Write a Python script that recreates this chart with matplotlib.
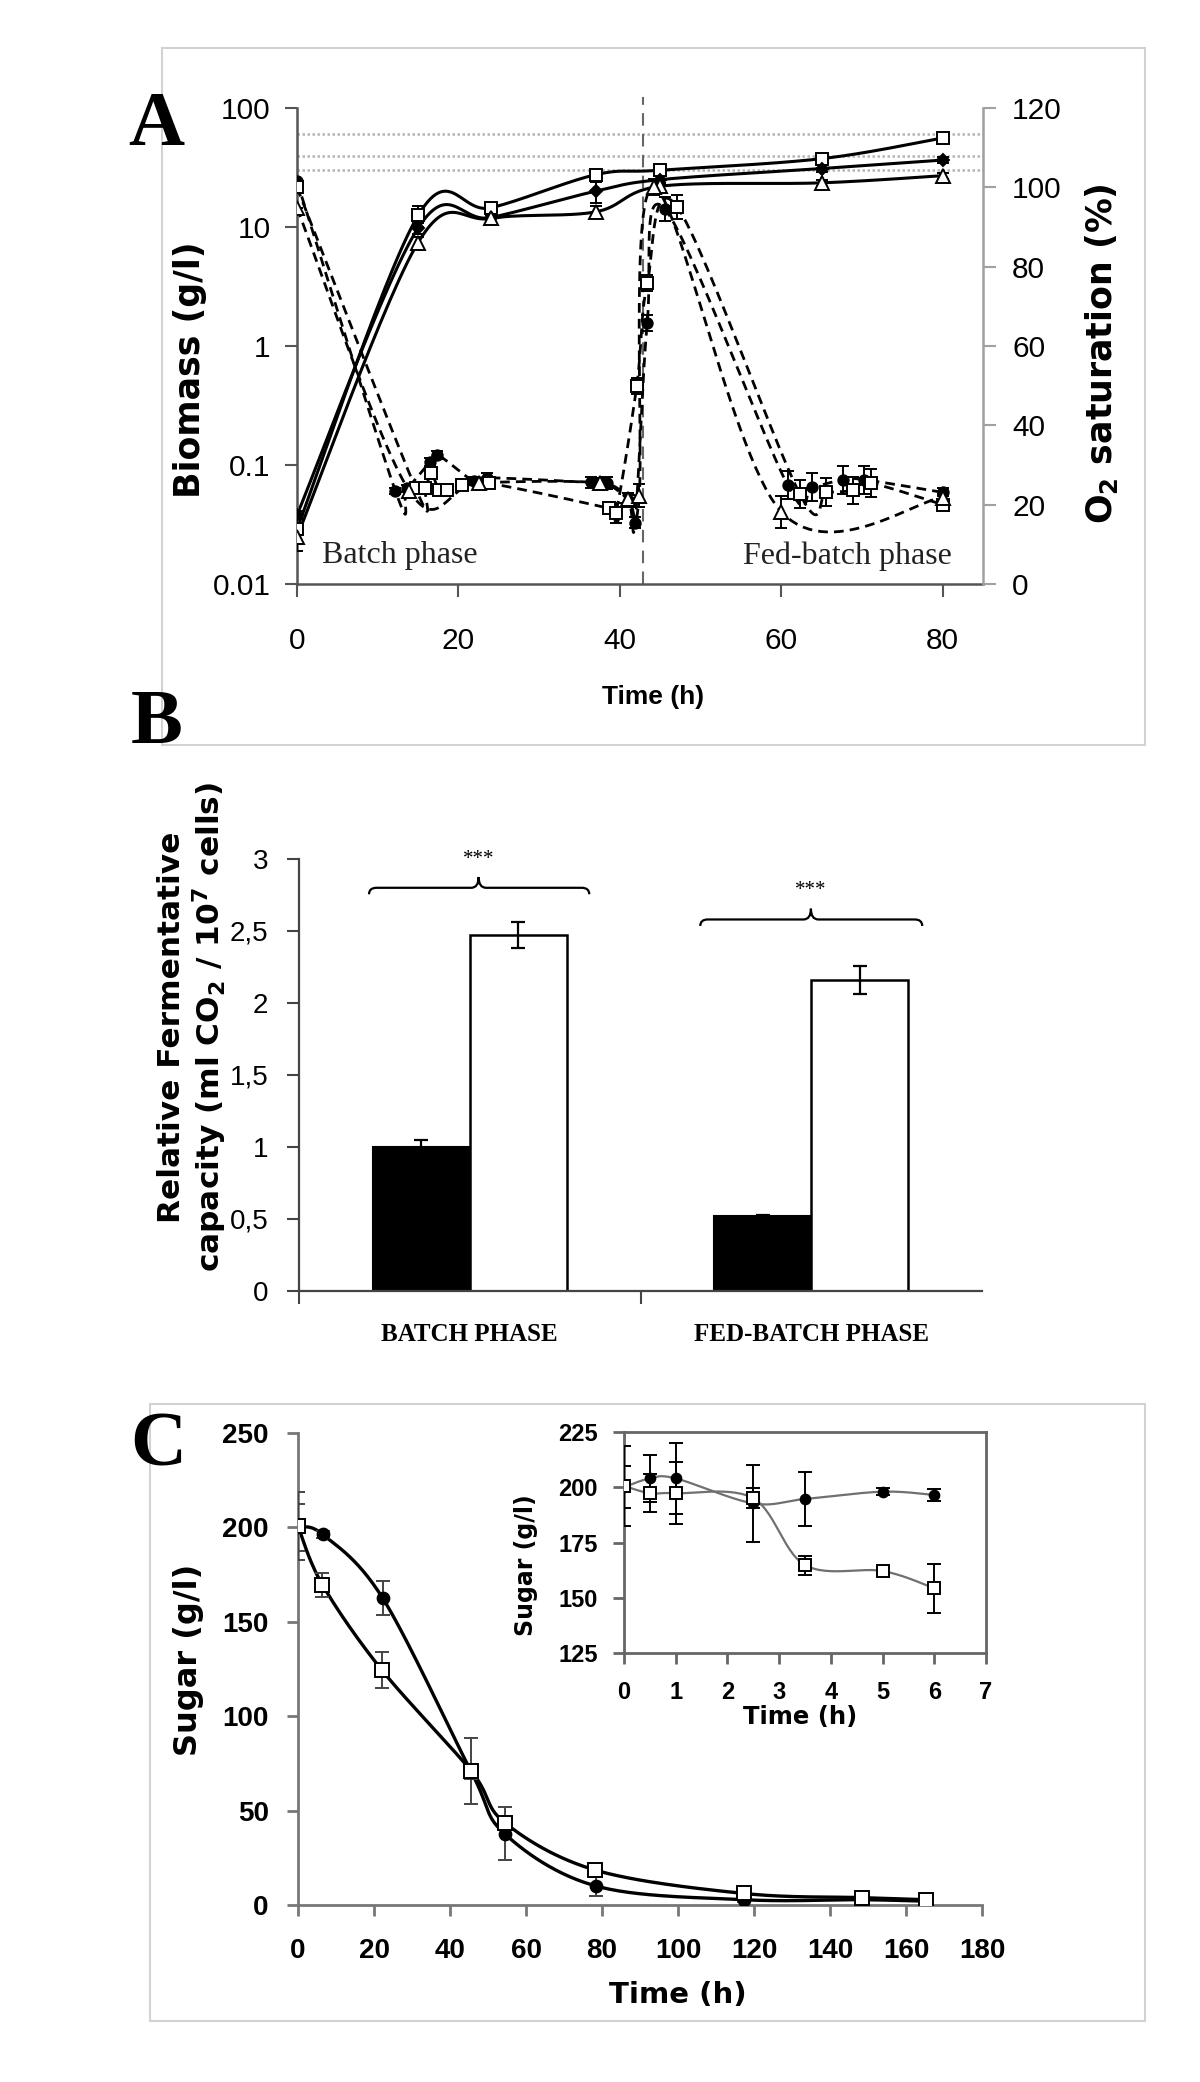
import numpy as np
import matplotlib
matplotlib.use('Agg')
import matplotlib.pyplot as plt
from matplotlib.path import Path
from matplotlib.patches import PathPatch, Rectangle
from matplotlib.ticker import NullLocator, FixedLocator

plt.rcParams['font.family'] = ['Liberation Sans', 'DejaVu Sans']
plt.rcParams['mathtext.fontset'] = 'dejavusans'

# ---------------- Panel A data ----------------
a_t_bio = [0, 15, 24, 37, 45, 65, 80]
a_bio_sq = [0.029, 12.5, 14.5, 27.5, 30, 37.5, 56]
a_bio_sq_err = [0.006, 2.5, 1.5, 1.5, 1.5, 2, 2]
a_bio_dia = [0.038, 9.8, 12, 20, 25, 31, 36.5]
a_bio_dia_err = [0.003, 1.0, 1.0, 4, 2, 2, 2]
a_bio_tri = [0.025, 7.4, 11.8, 13.4, 22, 23.5, 27]
a_bio_tri_err = [0.006, 0.8, 0.8, 1.5, 1.5, 1.5, 1.5]

a_o2_circ_t = [0, 12.2, 13.6, 16.5, 17.4, 21.9, 23.5, 36.4, 37.4, 38.4, 41.1, 41.9, 43.4, 45.6, 60.8, 63.8, 67.6, 70.3, 80]
a_o2_circ = [101.5, 23.4, 24.1, 30.8, 32.6, 25.9, 26.8, 25.6, 25.2, 25.4, 21.0, 15.5, 65.9, 94.5, 24.9, 24.5, 26.3, 26.3, 23.1]
a_o2_circ_err = [0, 0.8, 0.8, 1, 1, 1, 1.2, 1.5, 1.5, 1.5, 1.5, 1.5, 2, 3, 3.5, 3.5, 3.5, 3.5, 1]

a_o2_sq_t = [0, 14.7, 15.9, 16.6, 17.6, 18.6, 20.5, 23.8, 38.6, 39.5, 42.1, 43.4, 47.1, 62.3, 65.6, 68.9, 71.1, 80]
a_o2_sq = [100, 24.1, 24.1, 28.1, 23.6, 23.6, 25.0, 25.4, 19.1, 17.8, 50, 75.8, 95.1, 22.7, 23.1, 23.6, 25.4, 20]
a_o2_sq_err = [0, 0.8, 0.8, 1, 1, 1, 1, 1.2, 1.5, 2.5, 2, 2, 3, 3.5, 3.5, 3.5, 3.5, 1]

a_o2_tri_t = [0, 13.9, 22.5, 37.5, 41.0, 42.4, 44.2, 60.0, 80]
a_o2_tri = [94.8, 23.5, 25.5, 25.5, 21.5, 22.3, 100, 18.2, 21.8]
a_o2_tri_err = [0, 0.8, 1, 1, 1.5, 3, 2, 4, 1]

a_ref_lines = [61, 39.5, 30]
a_phase_switch = 42.9
a_xticks = [0, 20, 40, 60, 80]
a_yticks = [0.01, 0.1, 1, 10, 100]
a_yticklabels = ['0.01', '0.1', '1', '10', '100']
a_y2ticks = [0, 20, 40, 60, 80, 100, 120]

# ---------------- Panel B data ----------------
b_categories = ['BATCH PHASE', 'FED-BATCH PHASE']
b_black = [1.0, 0.52]
b_black_err = [0.05, 0.01]
b_white = [2.47, 2.16]
b_white_err = [0.09, 0.10]
b_yticks = [0, 0.5, 1, 1.5, 2, 2.5, 3]
b_sig_labels = ['***', '***']
b_brace_x = [(0.205, 0.85), (1.175, 1.825)]
b_brace_mid = [0.526, 1.499]
b_brace_y = [2.80, 2.58]

# ---------------- Panel C data ----------------
c_t_circ = [0, 6.5, 22.3, 45.6, 54.4, 78.5, 117.4, 148.4, 165.3]
c_circ = [200, 196.3, 162.5, 70.5, 37.7, 10, 2.8, 2.8, 2]
c_circ_err = [12.5, 2, 9, 4, 14, 5, 1, 1, 1]
c_t_sq = [0, 6.4, 22, 45.6, 54.4, 78.2, 117.4, 148.4, 165.3]
c_sq = [200.7, 169.7, 124.6, 70.9, 43.6, 18.5, 6.1, 3.9, 2.8]
c_sq_err = [18, 6.3, 9.5, 17.5, 3, 2, 1, 1, 1]
c_xticks = list(range(0, 181, 20))
c_yticks = list(range(0, 251, 50))

ci_t = [0, 0.5, 1, 2.5, 3.5, 5, 6]
ci_circ = [200, 204, 204, 192.7, 194.7, 198, 196.5]
ci_circ_err = [9.4, 10.5, 16, 17.5, 12.3, 1.5, 2.5]
ci_sq = [200.6, 197.3, 197.3, 195, 164.8, 162.1, 154.3]
ci_sq_err = [18, 8.5, 14, 4.5, 4.3, 1.5, 11]
ci_xticks = list(range(0, 8))
ci_yticks = [125, 150, 175, 200, 225]

# ---------------- helpers ----------------
W, H = 1200, 2082
fig = plt.figure(figsize=(W / 100, H / 100), dpi=100)


def fx(px):
    return px / W


def fy(py):
    return 1 - py / H


def axes_px(l, t, r, b):
    return fig.add_axes([l / W, 1 - b / H, (r - l) / W, (b - t) / H])


def smooth(x, y, n=30):
    P = np.column_stack([x, y]).astype(float)
    m = len(P)
    xs, ys = [P[0, 0]], [P[0, 1]]
    s = np.linspace(0, 1, n)[1:, None]
    for i in range(m - 1):
        p0, p1 = P[i], P[i + 1]
        pm = P[i - 1] if i > 0 else P[i]
        pp = P[i + 2] if i + 2 < m else P[i + 1]
        c1 = p0 + (p1 - pm) / 6
        c2 = p1 - (pp - p0) / 6
        B = (1 - s) ** 3 * p0 + 3 * (1 - s) ** 2 * s * c1 + 3 * (1 - s) * s ** 2 * c2 + s ** 3 * p1
        xs.extend(B[:, 0])
        ys.extend(B[:, 1])
    return np.array(xs), np.array(ys)


def series(ax, t, v, err, marker, mfc, ms, ls='-', lw=2.2, color='k', log=False,
           ecolor='k', capsize=4, z=3):
    if log:
        xs, ly = smooth(t, np.log10(v))
        ys = 10 ** ly
    else:
        xs, ys = smooth(t, v)
    ax.plot(xs, ys, color=color, lw=lw, ls=ls, zorder=z - 1, solid_capstyle='round')
    ax.errorbar(t, v, yerr=err, fmt=marker, mfc=mfc, mec='k', ms=ms, mew=1.4,
                ecolor=ecolor, elinewidth=1.4, capsize=capsize, capthick=1.4,
                ls='none', zorder=z)


def frame(l, t, r, b):
    fig.add_artist(Rectangle((fx(l), fy(b)), (r - l) / W, (b - t) / H,
                             transform=fig.transFigure, fill=False,
                             ec='#d2d2d2', lw=1.5))


LABEL = dict(family=['DejaVu Sans'], weight='bold')
PANEL = dict(family=['Liberation Serif'], weight='bold', size=56, ha='center', va='baseline')

# ---------------- Panel A ----------------
frame(162, 48, 1145, 745)
axA = axes_px(297, 108, 983, 584)
axA.set_yscale('log')
axA.set_ylim(0.01, 100)
axA.set_xlim(0, 85)
axA2 = axA.twinx()
axA2.set_ylim(0, 120)

for v in a_ref_lines:
    axA.axhline(v, color='#b5b5b5', lw=1.8, ls=(0, (1, 1)), zorder=1)
axA.axvline(a_phase_switch, ymin=0, ymax=1.023, clip_on=False, color='#666666',
            lw=1.5, ls=(0, (6, 4)), zorder=1)

series(axA, a_t_bio, a_bio_sq, a_bio_sq_err, 's', 'white', 9, log=True)
series(axA, a_t_bio, a_bio_dia, a_bio_dia_err, 'D', 'k', 6.5, log=True)
series(axA, a_t_bio, a_bio_tri, a_bio_tri_err, '^', 'white', 10, log=True)

dash = (0, (3.5, 2.2))
series(axA2, a_o2_circ_t, a_o2_circ, a_o2_circ_err, 'o', 'k', 7.5, ls=dash, lw=2.0)
series(axA2, a_o2_sq_t, a_o2_sq, a_o2_sq_err, 's', 'white', 9, ls=dash, lw=2.0)
series(axA2, a_o2_tri_t, a_o2_tri, a_o2_tri_err, '^', 'white', 10, ls=dash, lw=2.0)

axA.set_xticks(a_xticks)
axA.set_yticks(a_yticks)
axA.set_yticklabels(a_yticklabels)
axA.yaxis.set_minor_locator(NullLocator())
axA.tick_params(axis='both', direction='out', length=9, width=1.5, color='#555555',
                labelsize=21.5)
axA.tick_params(axis='y', pad=10)
axA.tick_params(axis='x', pad=22)
axA2.set_yticks(a_y2ticks)
axA2.tick_params(axis='y', direction='out', length=9, width=1.5, color='#a0a0a0',
                 labelsize=21.5, pad=12)
for sp in ['top', 'right']:
    axA.spines[sp].set_visible(False)
for sp in ['left', 'bottom']:
    axA.spines[sp].set_color('#555555')
    axA.spines[sp].set_linewidth(1.8)
for sp in ['top', 'left', 'bottom']:
    axA2.spines[sp].set_visible(False)
axA2.spines['right'].set_color('#a0a0a0')
axA2.spines['right'].set_linewidth(1.8)

fig.text(fx(156), fy(145), 'A', **PANEL)
fig.text(fx(322), fy(556), 'Batch phase', family=['Liberation Serif'], size=23,
         ha='left', va='center', color='#222222')
fig.text(fx(952), fy(556), 'Fed-batch phase', family=['Liberation Serif'], size=23,
         ha='right', va='center', color='#222222')
fig.text(fx(190), fy(370), 'Biomass (g/l)', rotation=90, ha='center', va='center',
         size=25, **LABEL)
fig.text(fx(1101), fy(354), r'O$_{\mathbf{2}}$ saturation (%)', rotation=90,
         ha='center', va='center', size=25, **LABEL)
fig.text(fx(653), fy(697), 'Time (h)', family=['Liberation Sans'], weight='bold',
         size=19, ha='center', va='center')

# ---------------- Panel B ----------------
axB = axes_px(299, 859, 982, 1291)
axB.set_xlim(0, 2)
axB.set_ylim(0, 3)
centers = np.arange(len(b_categories)) + 0.5
bw = 0.284
ekw = dict(ecolor='k', elinewidth=1.6, capsize=5, capthick=1.6)
axB.bar(centers - bw / 2, b_black, bw, color='k', edgecolor='k', lw=1.5,
        yerr=b_black_err, error_kw=ekw, zorder=2)
axB.bar(centers + bw / 2, b_white, bw, color='white', edgecolor='k', lw=1.8,
        yerr=b_white_err, error_kw=ekw, zorder=2)
axB.set_yticks(b_yticks)
axB.set_yticklabels([f'{v:g}'.replace('.', ',') for v in b_yticks])
axB.set_xticks(centers)
axB.set_xticklabels(b_categories)
axB.xaxis.set_minor_locator(FixedLocator([0, 1]))
axB.tick_params(axis='x', which='major', length=0, pad=23)
axB.tick_params(axis='x', which='minor', direction='out', length=9, width=1.5,
                color='#444444')
axB.tick_params(axis='y', direction='out', length=9, width=1.5, color='#444444',
                labelsize=20, pad=13)
for lab in axB.get_xticklabels():
    lab.set_fontfamily(['Liberation Serif'])
    lab.set_fontweight('bold')
    lab.set_fontsize(18)
for sp in ['top', 'right']:
    axB.spines[sp].set_visible(False)
for sp in ['left', 'bottom']:
    axB.spines[sp].set_color('#444444')
    axB.spines[sp].set_linewidth(1.6)

for (x0, x1), xm, y, lab in zip(b_brace_x, b_brace_mid, b_brace_y, b_sig_labels):
    d = 0.022
    hd, hu = 0.045, 0.075
    verts = [(x0, y - hd), (x0, y), (x0 + d, y),
             (xm - d, y), (xm, y), (xm, y + hu),
             (xm, y), (xm + d, y),
             (x1 - d, y), (x1, y), (x1, y - hd)]
    codes = [Path.MOVETO, Path.CURVE3, Path.CURVE3,
             Path.LINETO, Path.CURVE3, Path.CURVE3,
             Path.CURVE3, Path.CURVE3,
             Path.LINETO, Path.CURVE3, Path.CURVE3]
    axB.add_patch(PathPatch(Path(verts, codes), fill=False, lw=1.6, ec='k',
                            clip_on=False))
    axB.text(xm, y + 0.2, lab, ha='center', va='center', family=['Liberation Serif'],
             size=15, clip_on=False)

fig.text(fx(157), fy(743), 'B', **PANEL)
fig.text(fx(172), fy(1027), 'Relative Fermentative', rotation=90, ha='center',
         va='center', size=22.5, **LABEL)
fig.text(fx(210), fy(1027), r'capacity (ml CO$_{\mathbf{2}}$ / 10$^{\mathbf{7}}$ cells)',
         rotation=90, ha='center', va='center', size=22.5, **LABEL)

# ---------------- Panel C ----------------
frame(150, 1404, 1145, 2021)
axC = axes_px(298, 1433, 982, 1905)
axC.set_xlim(0, 180)
axC.set_ylim(0, 250)
series(axC, c_t_circ, c_circ, c_circ_err, 'o', 'k', 8.5, lw=2.4, ecolor='#444444', capsize=5)
series(axC, c_t_sq, c_sq, c_sq_err, 's', 'white', 10.5, lw=2.4, ecolor='#444444', capsize=5)
axC.set_xticks(c_xticks)
axC.set_yticks(c_yticks)
axC.tick_params(axis='both', direction='out', length=8, width=2, color='#777777',
                labelsize=20)
axC.tick_params(axis='x', pad=16)
axC.tick_params(axis='y', pad=13)
for lab in axC.get_xticklabels() + axC.get_yticklabels():
    lab.set_fontweight('bold')
for sp in ['top', 'right']:
    axC.spines[sp].set_visible(False)
for sp in ['left', 'bottom']:
    axC.spines[sp].set_color('#777777')
    axC.spines[sp].set_linewidth(2)

fig.text(fx(158), fy(1465), 'C', **PANEL)
fig.text(fx(188), fy(1660), 'Sugar (g/l)', rotation=90, ha='center', va='center',
         size=23, **LABEL)
fig.text(fx(678), fy(1995), 'Time (h)', ha='center', va='center', size=21, **LABEL)

# inset
axI = axes_px(624, 1432, 986, 1653)
axI.set_xlim(0, 7)
axI.set_ylim(125, 225)
series(axI, ci_t, ci_circ, ci_circ_err, 'o', 'k', 7, lw=1.6, color='#707070', capsize=5)
series(axI, ci_t, ci_sq, ci_sq_err, 's', 'white', 8.5, lw=1.6, color='#707070', capsize=5)
axI.set_xticks(ci_xticks)
axI.set_yticks(ci_yticks)
axI.tick_params(axis='both', direction='out', length=8, width=2, color='#666666',
                labelsize=17)
axI.tick_params(axis='x', pad=12)
axI.tick_params(axis='y', pad=11)
for lab in axI.get_xticklabels() + axI.get_yticklabels():
    lab.set_fontweight('bold')
for sp in axI.spines.values():
    sp.set_color('#666666')
    sp.set_linewidth(2)
fig.text(fx(526), fy(1565), 'Sugar (g/l)', rotation=90, ha='center', va='center',
         size=17, **LABEL)
fig.text(fx(800), fy(1717), 'Time (h)', ha='center', va='center', size=17.5, **LABEL)

fig.savefig('out.png', dpi=100, facecolor='white')
